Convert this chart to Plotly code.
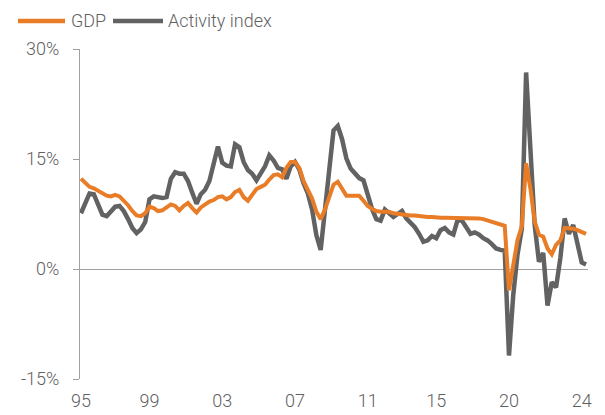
import plotly.graph_objects as go

# Quarterly observations, 1995Q1 onward (index = quarter number)
gdp = [12.3, 11.7, 11.2, 11.0, 10.7, 10.3, 10.0, 9.9, 10.1, 9.9,
       9.3, 8.7, 7.9, 7.3, 7.2, 7.6, 8.5, 8.3, 7.9, 8.0,
       8.4, 8.8, 8.6, 8.0, 8.6, 9.0, 8.3, 7.7, 8.4, 8.8,
       9.2, 9.4, 9.8, 9.9, 9.5, 9.8, 10.5, 10.8, 9.8, 9.3,
       10.1, 10.9, 11.2, 11.5, 12.2, 12.8, 12.9, 12.5, 13.8, 14.6,
       14.6, 13.8, 12.0, 10.8, 9.6, 7.8, 6.8, 8.1, 9.8, 11.5,
       11.9, 10.9, 10.0, 10.0, 10.0, 10.0, 9.3, 8.6, 8.2, 7.9,
       7.8, 7.8, 7.8, 7.6, 7.5, 7.4, 7.4, 7.3, 7.3, 7.2,
       7.2, 7.1, 7.1, 7.0, 7.0, 7.0, 7.0, 7.0, 7.0, 7.0,
       7.0, 6.9, 6.9, 6.9, 6.8, 6.6, 6.5, 6.3, 6.1, 5.9,
       -2.9, 0.5, 4.0, 5.8, 14.4, 11.0, 6.5, 4.7, 4.4, 2.8,
       2.0, 3.3, 3.9, 5.6, 5.6, 5.5, 5.3, 5.0, 4.8]

activity = [7.6, 8.8, 10.3, 10.2, 8.8, 7.4, 7.2, 7.8, 8.5, 8.6,
            7.9, 6.8, 5.6, 4.9, 5.4, 6.4, 9.5, 9.9, 9.8, 9.7,
            9.8, 12.3, 13.2, 13.0, 13.0, 12.0, 10.4, 8.9, 10.2, 10.8,
            12.0, 14.3, 16.7, 14.5, 14.1, 14.0, 17.0, 16.6, 14.6, 13.5,
            13.0, 12.1, 13.2, 14.0, 15.5, 14.8, 13.8, 13.6, 12.3, 14.0,
            14.6, 13.6, 11.7, 10.3, 8.1, 4.6, 2.6, 7.5, 13.5, 18.9,
            19.5, 17.7, 15.1, 13.7, 13.0, 12.4, 12.1, 10.0, 8.2, 6.8,
            6.6, 8.1, 7.5, 7.1, 7.5, 7.9, 6.9, 6.3, 5.7, 4.8,
            3.7, 3.9, 4.5, 4.2, 5.3, 5.6, 5.0, 4.7, 6.7, 6.6,
            5.8, 4.8, 5.0, 4.7, 4.2, 3.9, 3.4, 2.8, 2.6, 2.5,
            -11.8, -3.5, 2.0, 5.5, 26.8, 15.0, 6.0, 1.0, 2.2, -5.0,
            -1.8, -2.5, 1.5, 6.9, 4.8, 6.0, 3.5, 0.9, 0.6]

tick_labels = ["95", "99", "03", "07", "11", "15", "20", "24"]
tick_quarters = [0, 16, 33, 50, 67, 83, 100, 117]
y_ticks = [-15, 0, 15, 30]
y_tick_labels = ["-15%", "0%", "15%", "30%"]
series_names = ["GDP", "Activity index"]

quarters = list(range(len(gdp)))

ORANGE = "#E97C26"
GRAY = "#626262"
TEXT = "#5F5F5F"
AXIS = "#A0A0A0"
FONT = "Roboto, sans-serif"
FS = 18

fig = go.Figure()
fig.add_trace(go.Scatter(x=quarters, y=activity, mode="lines", name=series_names[1],
                         line=dict(color=GRAY, width=4.5), showlegend=False))
fig.add_trace(go.Scatter(x=quarters, y=gdp, mode="lines", name=series_names[0],
                         line=dict(color=ORANGE, width=4), showlegend=False))

# Legend drawn as key lines + text labels (pixel positions via paper coords)
W, H = 605, 415
L, R, T, B = 72, 25, 41, 44
pw, ph = W - L - R, H - T - B


def px(xp):
    return (xp - L) / pw


def py(yp):
    return 1 - (yp - T) / ph


legend_items = [(series_names[0], ORANGE, 10, 57, 61), (series_names[1], GRAY, 105, 155, 158)]
for name, color, x0, x1, tx in legend_items:
    fig.add_shape(type="line", xref="paper", yref="paper",
                  x0=px(x0), x1=px(x1), y0=py(13), y1=py(13),
                  line=dict(color=color, width=4.5))
    fig.add_annotation(xref="paper", yref="paper", x=px(tx), y=py(13),
                       xanchor="left", yanchor="middle", text=name, showarrow=False,
                       font=dict(size=FS, color=TEXT, family=FONT, weight=300))

fig.update_layout(
    width=W, height=H,
    margin=dict(l=L, r=R, t=T, b=B, autoexpand=False),
    paper_bgcolor="white", plot_bgcolor="white",
    font=dict(family=FONT, size=FS, color=TEXT, weight=300),
    showlegend=False,
    xaxis=dict(range=[-0.23, 118.46], showgrid=False, zeroline=False, showline=False,
               tickmode="array", tickvals=tick_quarters, ticktext=tick_labels,
               ticks="", ticklabelstandoff=9,
               tickfont=dict(size=FS, color=TEXT, weight=300)),
    yaxis=dict(range=[-15, 30], showgrid=False, zeroline=True, zerolinecolor=AXIS,
               zerolinewidth=1, showline=True, linecolor=AXIS, linewidth=1,
               ticks="outside", ticklen=6, tickcolor=AXIS, tickwidth=1,
               tickmode="array", tickvals=y_ticks, ticktext=y_tick_labels,
               ticklabelstandoff=10, tickfont=dict(size=FS, color=TEXT, weight=300)),
)

fig.write_html("out.html")
